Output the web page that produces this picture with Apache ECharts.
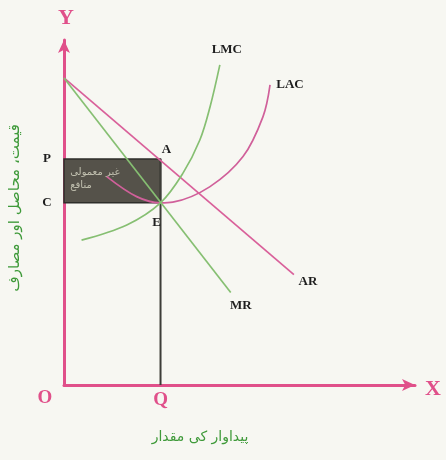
<!DOCTYPE html>
<html>
<head>
<meta charset="utf-8">
<script src="https://cdn.jsdelivr.net/npm/echarts@6/dist/echarts.min.js"></script>
<style>
  html, body { margin: 0; padding: 0; background: #f7f7f2; }
  #chart { width: 446px; height: 460px; }
</style>
</head>
<body>
<div id="chart"></div>
<script>
// Long-run equilibrium of a monopoly firm (quantity vs price / revenue / cost)
const quantityQ = 2.75;       // equilibrium output OQ
const priceP = 6.55;
const costC = 5.28;           // average cost OC at E

// Demand (AR) and marginal revenue (MR) straight lines: [quantity, value]
const arLine = [[0, 8.9], [6.55, 3.2]];
const mrLine = [[0, 8.9], [4.75, 2.68]];

// Long-run marginal cost curve
const lmcCurve = [[0.5, 4.2], [1.79, 4.64], [2.75, 5.28], [3.39, 6.14], [3.87, 7.1], [4.16, 8.06], [4.44, 9.28]];

// Long-run average cost curve (U shaped, minimum at E)
const lacCurve = [[1.22, 6.04], [2.07, 5.46], [2.75, 5.28], [3.1, 5.3], [4.16, 5.75], [5.1, 6.62], [5.67, 7.78], [5.87, 8.7]];

const curveNames = ['LMC', 'LAC', 'AR', 'MR'];
const pointNames = { P: 'P', C: 'C', A: 'A', E: 'E', O: 'O', Q: 'Q' };
const yAxisTitle = 'قیمت، محاصل اور مصارف';
const xAxisTitle = 'پیداوار کی مقدار';
const profitText = 'غیر معمولی\nمنافع';

const pink = '#e0508a';
const green = '#86bf72';
const serif = '"Liberation Serif", "DejaVu Serif", serif';
const urdu = '"DejaVu Sans", sans-serif';

const chart = echarts.init(document.getElementById('chart'));

const axisCommon = {
  type: 'value', min: 0, max: 10,
  splitLine: { show: false }, axisTick: { show: false }, axisLabel: { show: false },
  axisLine: { show: true, symbol: ['none', 'arrow'], symbolSize: [9, 13], lineStyle: { color: pink, width: 3 } }
};

chart.setOption({
  backgroundColor: '#f7f7f2',
  animation: false,
  grid: { left: 64, right: 31, top: 40, bottom: 75 },
  xAxis: axisCommon,
  yAxis: axisCommon,
  series: [
    {
      // Shaded profit rectangle PAEC plus the QA perpendicular
      type: 'line', data: [[quantityQ, 0], [quantityQ, priceP]], symbol: 'none',
      lineStyle: { color: '#3d3d38', width: 2 }, z: 3,
      markArea: {
        silent: true,
        itemStyle: { color: '#55524a', borderColor: '#2e2e2a', borderWidth: 1.5 },
        label: { show: true, position: 'insideTopLeft', formatter: profitText, color: 'rgba(235,235,215,0.7)', fontFamily: urdu, fontSize: 10, lineHeight: 13, offset: [2, 3] },
        data: [[{ coord: [0, priceP] }, { coord: [quantityQ, costC] }]]
      }
    },
    { name: 'LAC', type: 'line', data: lacCurve, smooth: 0.35, symbol: 'none', lineStyle: { color: '#d0609a', width: 1.7 }, z: 4 },
    { name: 'AR', type: 'line', data: arLine, symbol: 'none', lineStyle: { color: '#d9609a', width: 1.7 }, z: 4 },
    { name: 'MR', type: 'line', data: mrLine, symbol: 'none', lineStyle: { color: green, width: 1.7 }, z: 4 },
    { name: 'LMC', type: 'line', data: lmcCurve, smooth: 0.35, symbol: 'none', lineStyle: { color: green, width: 1.7 }, z: 4 }
  ]
});

// Text labels anchored to data positions
function px(pt) { return chart.convertToPixel({ gridIndex: 0 }, pt); }
const black = '#1e1e1e';
function label(text, pos, dx, dy, opts) {
  return Object.assign({
    type: 'text', x: pos[0] + dx, y: pos[1] + dy, z: 20,
    style: Object.assign({ text: text, fill: black, font: 'bold 13px ' + serif, align: 'center', verticalAlign: 'middle' }, opts || {})
  });
}
const origin = px([0, 0]);
const topY = px([0, 10]);
const rightX = px([10, 0]);
const pA = px([quantityQ, priceP]);
const pE = px([quantityQ, costC]);
const lmcEnd = px(lmcCurve[lmcCurve.length - 1]);
const lacEnd = px(lacCurve[lacCurve.length - 1]);
const arEnd = px(arLine[1]);
const mrEnd = px(mrLine[1]);

chart.setOption({
  graphic: [
    label('Y', [origin[0], topY[1]], 2, -22, { fill: pink, font: 'bold 22px ' + serif }),
    label('X', [rightX[0], origin[1]], 18, 4, { fill: pink, font: 'bold 22px ' + serif }),
    label(pointNames.O, origin, -19, 13, { fill: pink, font: 'bold 19px ' + serif }),
    label(pointNames.Q, [pA[0], origin[1]], 0, 15, { fill: pink, font: 'bold 19px ' + serif }),
    label(pointNames.P, [origin[0], pA[1]], -17, 0),
    label(pointNames.C, [origin[0], pE[1]], -17, 0),
    label(pointNames.A, pA, 6, -9),
    label(pointNames.E, pE, -4, 20),
    label(curveNames[0], lmcEnd, 7, -15),
    label(curveNames[1], lacEnd, 20, 0),
    label(curveNames[2], arEnd, 14, 7),
    label(curveNames[3], mrEnd, 10, 13),
    {
      type: 'text', x: 15, y: 208, rotation: Math.PI / 2, z: 20,
      style: { text: yAxisTitle, fill: '#3f9a3a', font: '15px ' + urdu, align: 'center', verticalAlign: 'middle' }
    },
    {
      type: 'text', x: 200, y: 437, z: 20,
      style: { text: xAxisTitle, fill: '#3f9a3a', font: '14px ' + urdu, align: 'center', verticalAlign: 'middle' }
    }
  ]
});
</script>
</body>
</html>
